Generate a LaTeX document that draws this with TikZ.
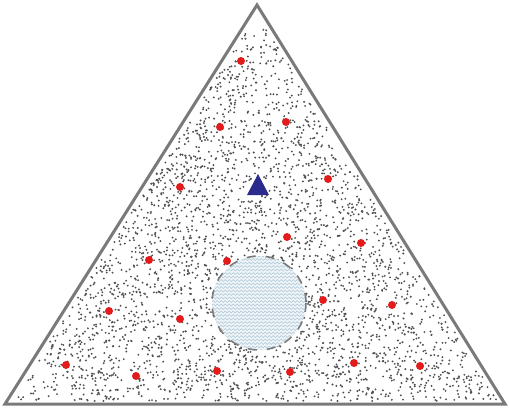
\documentclass[tikz,border=0pt]{standalone}
\usetikzlibrary{decorations.pathmorphing}
\definecolor{dotc}{HTML}{505050}
\definecolor{edgec}{HTML}{7A7A7A}
\definecolor{redc}{HTML}{E41B1B}
\definecolor{bluec}{HTML}{2B2B8E}
\definecolor{poolfill}{HTML}{EEF4F8}
\definecolor{wavec}{HTML}{AFC6D8}
\tikzset{
  grain/.style={fill=dotc},
  seed/.style={fill=redc},
  border/.style={draw=edgec,line width=3pt,line join=miter},
  pooledge/.style={draw=edgec,line width=1.6pt,dash pattern=on 9pt off 10pt},
  wave/.style={draw=wavec,line width=0.55pt,decorate,decoration={snake,amplitude=0.9pt,segment length=4pt}}
}
\begin{document}
\begin{tikzpicture}[x=1pt,y=-1pt]
\useasboundingbox (0,0) rectangle (509,410);
\fill[white] (0,0) rectangle (509,410);
\pgfmathsetseed{7}
\foreach \i in {1,...,3400}{
  \pgfmathsetmacro\ua{rnd}
  \pgfmathsetmacro\ub{rnd}
  \pgfmathsetmacro\s{(\ua+\ub>1) ? 1 : 0}
  \pgfmathsetmacro\pa{\s*(1-\ua)+(1-\s)*\ua}
  \pgfmathsetmacro\pb{\s*(1-\ub)+(1-\s)*\ub}
  \pgfmathsetmacro\px{257+\pa*(-245)+\pb*241}
  \pgfmathsetmacro\py{14+\pa*387+\pb*387}
  \fill[grain] (\px,\py) circle (1.05);
}
% pool
\fill[poolfill] (259,303) circle (47);
\begin{scope}
  \clip (259,303) circle (47);
  \foreach \yy in {256,259.5,...,352}{
    \draw[wave] (208,\yy) -- (312,\yy);
  }
\end{scope}
\draw[pooledge] (259,303) circle (47);
% outline
\draw[border] (257,5) -- (5,404) -- (505,404) -- cycle;
% red seeds
\foreach \x/\y in {241/61,220/127,286/122,180/187,328/179,287/237,361/243,149/260,227/261,323/300,109/311,180/319,392/305,66/365,136/376,217/371,290/372,354/363,420/366}{
  \fill[seed] (\x,\y) circle (4);
}
% blue marker
\fill[bluec] (258,174) -- (247,195) -- (269,195) -- cycle;
\end{tikzpicture}
\end{document}
